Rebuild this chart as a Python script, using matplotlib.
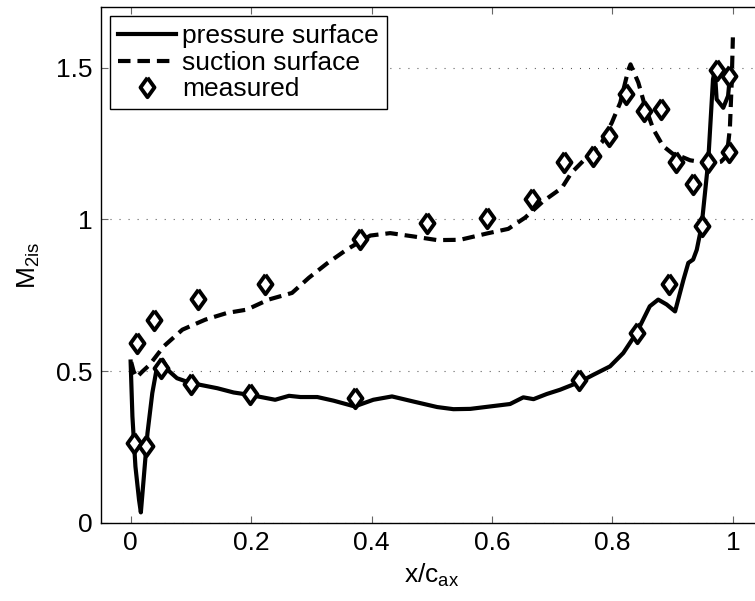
import numpy as np
import matplotlib
matplotlib.use('Agg')
import matplotlib.pyplot as plt

plt.rcParams['font.family'] = ['Liberation Sans', 'DejaVu Sans']
plt.rcParams['mathtext.default'] = 'regular'
plt.rcParams['lines.scale_dashes'] = False

# pressure surface (solid)
ps_x = [0.000, 0.003, 0.008, 0.014, 0.017, 0.022, 0.028, 0.036, 0.044, 0.053,
        0.064, 0.077, 0.100, 0.116, 0.144, 0.171, 0.198, 0.240, 0.263, 0.282,
        0.310, 0.337, 0.372, 0.403, 0.434, 0.470, 0.509, 0.536, 0.564, 0.597,
        0.630, 0.652, 0.669, 0.691, 0.713, 0.746, 0.768, 0.796, 0.818, 0.840,
        0.862, 0.876, 0.890, 0.904, 0.918, 0.926, 0.934, 0.940, 0.948, 0.959,
        0.967, 0.970, 0.973, 0.984, 0.992, 0.995]
ps_y = [0.532, 0.351, 0.186, 0.076, 0.035, 0.153, 0.296, 0.428, 0.516, 0.538,
        0.500, 0.477, 0.461, 0.455, 0.444, 0.430, 0.422, 0.406, 0.419, 0.415,
        0.415, 0.403, 0.384, 0.406, 0.417, 0.400, 0.382, 0.375, 0.376, 0.384,
        0.392, 0.414, 0.408, 0.425, 0.439, 0.465, 0.488, 0.516, 0.560, 0.626,
        0.714, 0.736, 0.720, 0.697, 0.802, 0.857, 0.868, 0.900, 0.978, 1.190,
        1.462, 1.490, 1.396, 1.368, 1.407, 1.470]

# suction surface (dashed)
ss_x = [0.001, 0.005, 0.010, 0.020, 0.031, 0.055, 0.086, 0.124, 0.160, 0.193,
        0.229, 0.268, 0.296, 0.326, 0.359, 0.398, 0.431, 0.470, 0.509, 0.547,
        0.592, 0.627, 0.655, 0.685, 0.716, 0.732, 0.757, 0.782, 0.799, 0.813,
        0.826, 0.830, 0.843, 0.854, 0.868, 0.884, 0.901, 0.912, 0.929, 0.945,
        0.965, 0.980, 0.990, 0.995, 0.998, 1.000]
ss_y = [0.530, 0.500, 0.480, 0.500, 0.520, 0.582, 0.637, 0.670, 0.692, 0.703,
        0.736, 0.758, 0.808, 0.855, 0.901, 0.947, 0.955, 0.944, 0.932, 0.933,
        0.954, 0.969, 1.006, 1.060, 1.104, 1.154, 1.204, 1.253, 1.319, 1.385,
        1.490, 1.511, 1.451, 1.374, 1.297, 1.242, 1.215, 1.209, 1.195, 1.190,
        1.185, 1.190, 1.210, 1.300, 1.450, 1.600]

# measured points
ms_x = [0.0055, 0.026, 0.011, 0.039, 0.050, 0.0995, 0.112, 0.198, 0.223, 0.372,
        0.381, 0.492, 0.592, 0.666, 0.720, 0.745, 0.767, 0.795, 0.822, 0.840,
        0.853, 0.881, 0.894, 0.905, 0.933, 0.948, 0.959, 0.973, 0.994, 0.994]
ms_y = [0.265, 0.255, 0.593, 0.669, 0.510, 0.459, 0.738, 0.424, 0.788, 0.411,
        0.937, 0.989, 1.006, 1.066, 1.190, 0.471, 1.209, 1.275, 1.415, 0.625,
        1.357, 1.365, 0.788, 1.190, 1.117, 0.978, 1.189, 1.492, 1.473, 1.222]

fig = plt.figure(figsize=(7.55, 6.01), dpi=100)
ax = fig.add_axes([100.5/755, 78/601, 662.5/755, 516/601])

ax.plot(ps_x, ps_y, '-', color='k', lw=3, label='pressure surface')
ax.plot(ss_x, ss_y, color='k', lw=3, dashes=(9, 5), label='suction surface')
diamond = [(0, 1), (0.72, 0), (0, -1), (-0.72, 0), (0, 1)]
ax.plot(ms_x, ms_y, ls='none', marker=diamond, ms=14, mew=2.8,
        mfc='white', mec='k', label='measured')

ax.set_xlim(-0.05, 1.05)
ax.set_ylim(0, 1.7)
ax.set_xticks([0, 0.2, 0.4, 0.6, 0.8, 1])
ax.set_xticklabels(['0', '0.2', '0.4', '0.6', '0.8', '1'])
ax.set_yticks([0, 0.5, 1, 1.5])
ax.set_yticklabels(['0', '0.5', '1', '1.5'])
ax.tick_params(direction='in', length=5, width=0.8, color='0.4',
               labelsize=19, top=True, right=False, pad=6)
ax.yaxis.grid(True, color='0.3', lw=0.8, dashes=(0.7, 5.8))
ax.set_axisbelow(True)
for s in ax.spines.values():
    s.set_linewidth(1.0)
ax.spines['right'].set_visible(False)

ax.set_xlabel('x/c$_{ax}$', fontsize=19, labelpad=5)
ax.set_ylabel('M$_{2is}$', fontsize=19, labelpad=10)

leg = ax.legend(loc='upper left', fontsize=19, frameon=True, fancybox=False,
                framealpha=1, edgecolor='k', borderaxespad=0.35,
                handlelength=2.2, handletextpad=0.25, labelspacing=0.1,
                borderpad=0.3, numpoints=1)
leg.get_frame().set_linewidth(1.0)

fig.savefig('out.png', dpi=100)
